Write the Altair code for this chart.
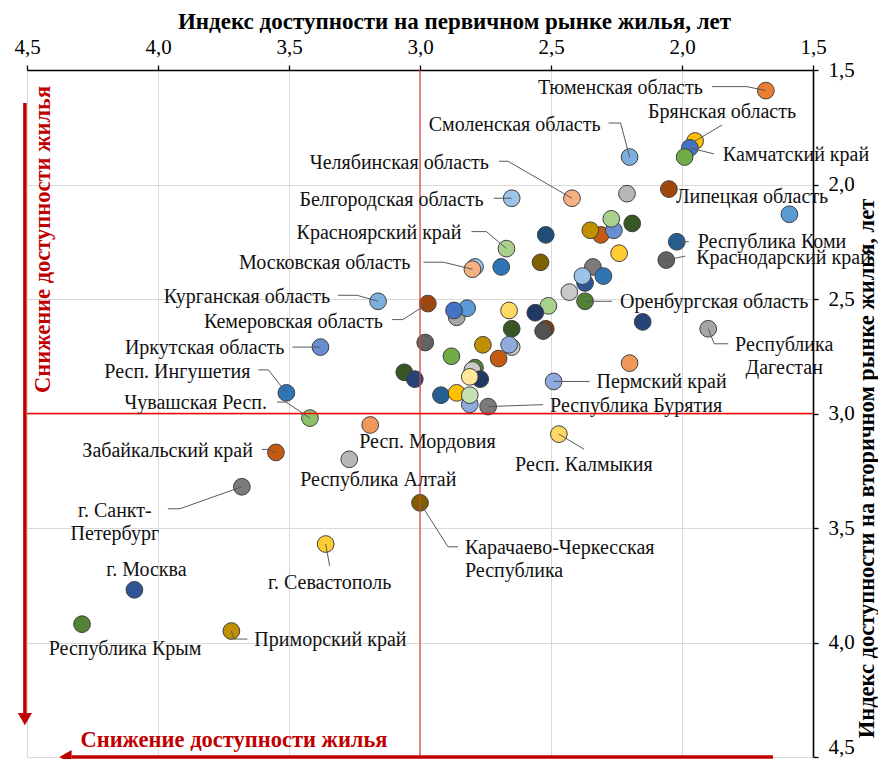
import altair as alt
import pandas as pd

# ---------------- data ----------------
names = [
    "Тюменская область", "Брянская область", "Камчатский край", "", "Смоленская область",
    "", "Липецкая область", "Челябинская область", "Белгородская область", "",
    "", "", "", "", "",
    "", "Республика Коми", "", "Краснодарский край", "Красноярский край",
    "", "", "", "Московская область", "",
    "", "", "", "", "Оренбургская область",
    "", "Республика\nДагестан", "", "Курганская область", "Кемеровская область",
    "", "", "", "", "",
    "", "", "", "", "",
    "", "", "", "", "",
    "Иркутская область", "", "", "", "",
    "", "", "Пермский край", "Респ. Ингушетия", "",
    "", "", "", "Республика Бурятия", "Чувашская Респ.",
    "Респ. Мордовия", "Респ. Калмыкия", "Забайкальский край", "Республика Алтай", "г. Санкт-\nПетербург",
    "Карачаево-Черкесская\nРеспублика", "г. Севастополь", "г. Москва", "Республика Крым", "Приморский край",
]
primary = [
    1.68, 1.95, 1.97, 1.99, 2.20,
    2.21, 2.05, 2.42, 2.65, 1.59,
    2.52, 2.31, 2.35, 2.26, 2.27,
    2.19, 2.02, 2.24, 2.06, 2.67,
    2.54, 2.69, 2.79, 2.80, 2.34,
    2.30, 2.37, 2.38, 2.43, 2.37,
    2.15, 1.90, 2.20, 3.16, 2.97,
    2.86, 2.82, 2.87, 2.66, 2.51,
    2.56, 2.65, 2.52, 2.53, 2.98,
    2.76, 2.65, 2.66, 2.88, 2.70,
    3.38, 3.06, 3.02, 2.79, 2.80,
    2.77, 2.81, 2.49, 3.51, 2.92,
    2.86, 2.81, 2.81, 2.74, 3.42,
    3.19, 2.47, 3.55, 3.27, 3.68,
    3.00, 3.36, 4.09, 4.29, 3.72,
]
secondary = [
    1.59, 1.81, 1.84, 1.88, 1.88,
    2.04, 2.02, 2.06, 2.06, 2.13,
    2.22, 2.22, 2.20, 2.20, 2.15,
    2.17, 2.25, 2.30, 2.33, 2.28,
    2.34, 2.36, 2.36, 2.37, 2.36,
    2.40, 2.43, 2.40, 2.47, 2.51,
    2.60, 2.63, 2.78, 2.51, 2.52,
    2.58, 2.54, 2.55, 2.55, 2.53,
    2.56, 2.63, 2.63, 2.64, 2.69,
    2.70, 2.71, 2.70, 2.75, 2.76,
    2.71, 2.82, 2.85, 2.80, 2.81,
    2.85, 2.84, 2.86, 2.91, 2.92,
    2.91, 2.96, 2.92, 2.97, 3.02,
    3.05, 3.09, 3.17, 3.20, 3.32,
    3.39, 3.57, 3.77, 3.92, 3.95,
]

# ---------------- styles ----------------
colors = [
    "#ED7D31", "#FFC000", "#4472C4", "#70AD47", "#7CAFDD",
    "#B7B7B7", "#9E480E", "#F4B183", "#9DC3E6", "#5B9BD5",
    "#1F4E79", "#C55A11", "#BF9000", "#698ED0", "#A9D18E",
    "#375623", "#255E91", "#FFCD33", "#636363", "#A9D18E",
    "#7F6000", "#2E75B6", "#9DC3E6", "#F4B183", "#7B7B7B",
    "#2E75B6", "#2F5597", "#9DC3E6", "#C9C9C9", "#548235",
    "#264478", "#A5A5A5", "#F1975A", "#7CAFDD", "#9E480E",
    "#A5A5A5", "#5B9BD5", "#4472C4", "#FFD966", "#A9D18E",
    "#203864", "#375623", "#843C0C", "#525252", "#636363",
    "#BF9000", "#C9C9C9", "#8FAADC", "#70AD47", "#C55A11",
    "#698ED0", "#375623", "#264478", "#548235", "#C9C9C9",
    "#203864", "#FFE699", "#8FAADC", "#2E75B6", "#255E91",
    "#FFC000", "#8FAADC", "#C5E0B4", "#7B7B7B", "#8CC168",
    "#F1975A", "#FFD966", "#C55A11", "#B7B7B7", "#7B7B7B",
    "#7F6000", "#FFCD33", "#2F5597", "#548235", "#BF9000",
]

# label placement in pixels relative to the point: dx, dy, align, leader path
label_layout = {
    "Тюменская область": (-63, -3, "right", [(-19, -4), (-54, -4)]),
    "Брянская область": (27, -29, "center", [(27, -16)]),
    "Камчатский край": (33, 7, "left", [(24, 6)]),
    "Смоленская область": (-29, -32, "right", [(-9, -34), (-21, -34)]),
    "Челябинская область": (-83, -35, "right", [(-64, -37), (-73, -37)]),
    "Белгородская область": (-28, 2, "right", [(-18, 0)]),
    "Красноярский край": (-45, -16, "right", [(-20, -17), (-35, -17)]),
    "Московская область": (-62, -6, "right", [(-29, -7), (-49, -7)]),
    "Курганская область": (-48, -4, "right", [(-21, -6), (-40, -6)]),
    "Кемеровская область": (-45, 18, "right", [(-25, 16), (-36, 16)]),
    "Иркутская область": (-36, 1, "right", [(-28, 0)]),
    "Респ. Ингушетия": (-36, -21, "right", [(-18, -23), (-28, -23)]),
    "Чувашская Респ.": (-43, -15, "right", [(-24, -16), (-33, -16)]),
    "Забайкальский край": (-23, -1, "right", [(-8, -3), (-14, -3)]),
    "Респ. Мордовия": (-11, 17, "left", []),
    "Республика Алтай": (-49, 21, "left", []),
    "г. Санкт-\nПетербург": (-127, 24, "center", [(-62, 22), (-74, 22)]),
    "Карачаево-Черкесская\nРеспублика": (45, 45, "left", [(28, 44), (38, 44)]),
    "г. Севастополь": (4, 39, "center", [(4, 22)]),
    "г. Москва": (12, -20, "center", []),
    "Республика Крым": (43, 25, "center", []),
    "Приморский край": (23, 9, "left", [(3, 8), (16, 8)]),
    "Респ. Калмыкия": (25, 31, "center", [(25, 15)]),
    "Пермский край": (43, 1, "left", [(36, 0)]),
    "Республика Бурятия": (62, -1, "left", [(55, -2)]),
    "Республика\nДагестан": (76, 16, "center", [(6, 15), (20, 15)]),
    "Оренбургская область": (35, 1, "left", [(27, 0)]),
    "Краснодарский край": (30, -2, "left", [(19, -4)]),
    "Республика Коми": (21, 0, "left", [(12, 0)]),
    "Липецкая область": (7, 8, "left", []),
}

PXX = 262.0  # pixels per unit, x
PXY = 229.0  # pixels per unit, y
FONT = "Liberation Serif"
RED = "#C00000"

pts = pd.DataFrame({"name": names, "x": primary, "y": secondary, "c": colors})
pts["order"] = range(len(pts))

lab_rows, seg_rows = [], []
for n, x, y in zip(names, primary, secondary):
    if not n:
        continue
    dx, dy, al, path = label_layout[n]
    lab_rows.append({"t": n, "x": x - dx / PXX, "y": y + dy / PXY, "al": al})
    prev = (x, y)
    for ox, oy in path:
        cur = (x - ox / PXX, y + oy / PXY)
        seg_rows.append({"x": prev[0], "y": prev[1], "x2": cur[0], "y2": cur[1]})
        prev = cur
labs = pd.DataFrame(lab_rows)
segs = pd.DataFrame(seg_rows)

xs = alt.Scale(domain=[1.5, 4.5], reverse=True, nice=False, zero=False)
ys = alt.Scale(domain=[1.5, 4.5], reverse=True, nice=False, zero=False)
ticks = [1.5, 2.0, 2.5, 3.0, 3.5, 4.0, 4.5]
lblexpr = "replace(format(datum.value, '.1f'), '.', ',')"

xaxis = alt.Axis(
    orient="top", values=ticks, labelExpr=lblexpr, grid=True, gridColor="#D9D9D9",
    domainColor="black", domainWidth=1.6, tickColor="black", tickSize=5, tickWidth=1.3,
    labelFont=FONT, labelFontSize=21, labelColor="black", labelPadding=8, labelFlush=False,
    title="Индекс доступности на первичном рынке жилья, лет", titleFont=FONT,
    titleFontSize=23, titleFontWeight="bold", titleColor="black", titlePadding=3,
    titleX=427, titleAlign="center",
)
yaxis = alt.Axis(
    orient="right", values=ticks, labelExpr=lblexpr, grid=True, gridColor="#D9D9D9",
    domainColor="black", domainWidth=1.6, tickColor="black", tickSize=5, tickWidth=1.3,
    labelFont=FONT, labelFontSize=21, labelColor="black", labelPadding=10, labelFlush=False,
    labelBaseline={"condition": {"test": "datum.value == 4.5", "value": "bottom"}, "value": "middle"},
    title="Индекс доступности на вторичном рынке жилья, лет", titleFont=FONT,
    titleFontSize=22.5, titleFontWeight="bold", titleColor="black", titleAngle=270,
    titleBaseline="top", titlePadding=1, titleY=398, titleAlign="center",
)

base_pts = alt.Chart(pts).mark_point(
    filled=True, size=280, stroke="#404040", strokeWidth=1, opacity=1, shape="circle"
).encode(
    x=alt.X("x:Q", scale=xs, axis=xaxis),
    y=alt.Y("y:Q", scale=ys, axis=yaxis),
    fill=alt.Fill("c:N", scale=None),
    order=alt.Order("order:Q"),
)

vline = alt.Chart(pd.DataFrame({"x": [3.0]})).mark_rule(color="#E04040", strokeWidth=1.2).encode(
    x=alt.X("x:Q", scale=xs)
)
hline = alt.Chart(pd.DataFrame({"y": [3.0]})).mark_rule(color="#FF0000", strokeWidth=1.4).encode(
    y=alt.Y("y:Q", scale=ys)
)

leaders = alt.Chart(segs).mark_rule(color="#595959", strokeWidth=1).encode(
    x=alt.X("x:Q", scale=xs), y=alt.Y("y:Q", scale=ys), x2="x2:Q", y2="y2:Q"
)

text_layers = []
for al in ["left", "right", "center"]:
    text_layers.append(
        alt.Chart(labs).transform_filter(alt.datum.al == al).mark_text(
            align=al, baseline="middle", font=FONT, fontSize=20, color="#111111",
            lineBreak="\n", lineHeight=23,
        ).encode(x=alt.X("x:Q", scale=xs), y=alt.Y("y:Q", scale=ys), text="t:N")
    )

# red annotation arrows (positions in data units of the chart)
arrow_v = alt.Chart(pd.DataFrame({"x": [4.508], "y": [1.644], "y2": [4.31]})).mark_rule(
    color=RED, strokeWidth=3.5
).encode(x=alt.X("x:Q", scale=xs), y=alt.Y("y:Q", scale=ys), y2="y2:Q")
head_v = alt.Chart(pd.DataFrame({"x": [4.508], "y": [4.335]})).mark_point(
    shape="triangle-down", filled=True, color=RED, size=200, opacity=1
).encode(x=alt.X("x:Q", scale=xs), y=alt.Y("y:Q", scale=ys))
arrow_h = alt.Chart(pd.DataFrame({"x": [4.33], "x2": [1.653], "y": [4.5]})).mark_rule(
    color=RED, strokeWidth=3.5
).encode(x=alt.X("x:Q", scale=xs), x2="x2:Q", y=alt.Y("y:Q", scale=ys))
head_h = alt.Chart(pd.DataFrame({"x": [4.353], "y": [4.5]})).mark_point(
    shape="triangle-left", filled=True, color=RED, size=200, opacity=1
).encode(x=alt.X("x:Q", scale=xs), y=alt.Y("y:Q", scale=ys))

red_h = alt.Chart(pd.DataFrame({"x": [3.71], "y": [4.426], "t": ["Снижение доступности жилья"]})).mark_text(
    font=FONT, fontSize=22.5, fontWeight="bold", color=RED, align="center", baseline="middle"
).encode(x=alt.X("x:Q", scale=xs), y=alt.Y("y:Q", scale=ys), text="t:N")
red_v = alt.Chart(pd.DataFrame({"x": [4.44], "y": [2.24], "t": ["Снижение доступности жилья"]})).mark_text(
    font=FONT, fontSize=22.5, fontWeight="bold", color=RED, align="center", baseline="middle", angle=270
).encode(x=alt.X("x:Q", scale=xs), y=alt.Y("y:Q", scale=ys), text="t:N")

chart = alt.layer(
    base_pts, vline, hline, leaders, *text_layers, arrow_v, head_v, arrow_h, head_h, red_h, red_v
).properties(
    width=786, height=687,
    padding={"left": 19, "top": 62, "right": 65, "bottom": 2},
    autosize=alt.AutoSizeParams(type="none"),
).configure_view(stroke=None)

chart.save("out.html", embed_options={"renderer": "svg", "actions": False})
